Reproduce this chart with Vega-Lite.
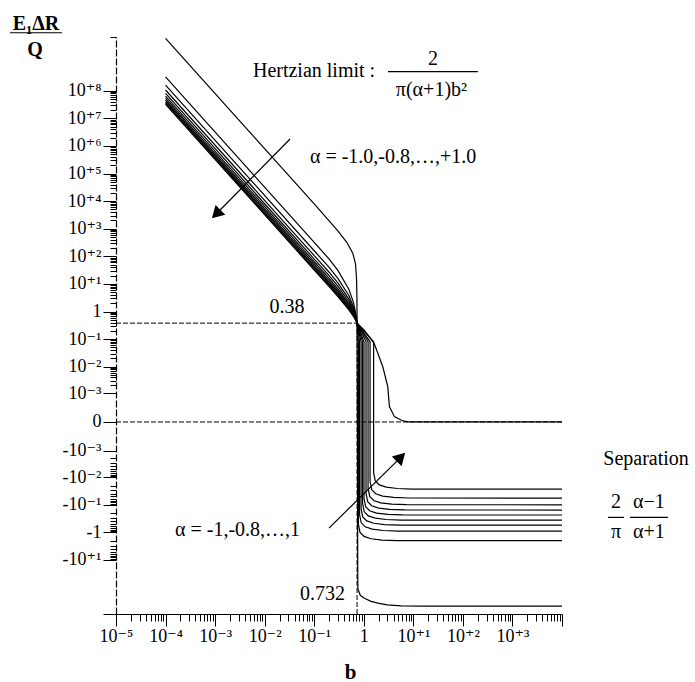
{
  "$schema": "https://vega.github.io/schema/vega-lite/v6.json",
  "width": 446,
  "height": 577,
  "autosize": {"type": "none"},
  "padding": {"left": 116, "top": 37, "right": 133, "bottom": 68},
  "background": "white",
  "config": {"view": {"stroke": null}, "font": "'Liberation Serif', 'Times New Roman', 'DejaVu Serif', serif"},
  "encoding": {
    "x": {
      "field": "b", "type": "quantitative",
      "scale": {"type": "log", "domain": [1e-5, 10000], "nice": false},
      "axis": {
        "title": "b", "titleFont": "'Liberation Serif', 'Times New Roman', 'DejaVu Serif', serif", "titleFontWeight": "bold", "titleFontSize": 21, "titleColor": "black",
        "titleX": 234, "titleY": 64, "titleBaseline": "alphabetic", "titleAnchor": "middle",
        "values": [1e-5,2e-5,3e-5,4e-5,5e-5,6e-5,7e-5,8e-5,9e-5,1e-4,2e-4,3e-4,4e-4,5e-4,6e-4,7e-4,8e-4,9e-4,1e-3,2e-3,3e-3,4e-3,5e-3,6e-3,7e-3,8e-3,9e-3,0.01,0.02,0.03,0.04,0.05,0.06,0.07,0.08,0.09,0.1,0.2,0.3,0.4,0.5,0.6,0.7,0.8,0.9,1,2,3,4,5,6,7,8,9,10,20,30,40,50,60,70,80,90,100,200,300,400,500,600,700,800,900,1000,2000,3000,4000,5000,6000,7000,8000,9000,10000],
        "labelExpr": "abs(log(datum.value)/LN10 - round(log(datum.value)/LN10)) > 1e-6 || datum.value > 5000 ? '' : (round(log(datum.value)/LN10) == 0 ? '1' : '10' + (datum.value > 1 ? '⁺' : '⁻') + ['','¹','²','³','⁴','⁵','⁶','⁷','⁸','⁹'][abs(round(log(datum.value)/LN10))])",
        "tickSize": {"condition": {"test": "abs(log(datum.value)/LN10 - round(log(datum.value)/LN10)) < 1e-6", "value": 12}, "value": 7},
        "tickColor": "black", "tickWidth": 1, "domainColor": "black", "domainWidth": 1.2,
        "labelFont": "'Liberation Serif', 'Times New Roman', 'DejaVu Serif', serif", "labelFontSize": 18, "labelColor": "black", "labelPadding": 1,
        "labelOverlap": false, "labelFlush": false, "labelBound": false, "grid": false
      }
    },
    "y": {
      "field": "v", "type": "quantitative",
      "scale": {"type": "symlog", "constant": 0.0001, "domain": [-906, 8830000000], "nice": false, "zero": false},
      "axis": {
        "title": null,
        "values": [8830000000,100000000,20000000,30000000,40000000,50000000,60000000,70000000,80000000,90000000,10000000,2000000,3000000,4000000,5000000,6000000,7000000,8000000,9000000,1000000,200000,300000,400000,500000,600000,700000,800000,900000,100000,20000,30000,40000,50000,60000,70000,80000,90000,10000,2000,3000,4000,5000,6000,7000,8000,9000,1000,200,300,400,500,600,700,800,900,100,20,30,40,50,60,70,80,90,10,2,3,4,5,6,7,8,9,1,0.2,0.3,0.4,0.5,0.6,0.7,0.8,0.9,0.1,0.02,0.03,0.04,0.05,0.06,0.07,0.08,0.09,0.01,0.002,0.003,0.004,0.005,0.006,0.007,0.008,0.009,0.001,0,-0.001,-0.002,-0.003,-0.004,-0.005,-0.006,-0.007,-0.008,-0.009,-0.01,-0.02,-0.03,-0.04,-0.05,-0.06,-0.07,-0.08,-0.09,-0.1,-0.2,-0.3,-0.4,-0.5,-0.6,-0.7,-0.8,-0.9,-1,-2,-3,-4,-5,-6,-7,-8,-9,-10,-906],
        "labelExpr": "datum.value == 0 ? '0' : (abs(log(abs(datum.value))/LN10 - round(log(abs(datum.value))/LN10)) > 1e-6 ? '' : (datum.value < 0 ? '-' : '') + (round(log(abs(datum.value))/LN10) == 0 ? '1' : '10' + (abs(datum.value) > 1 ? '⁺' : '⁻') + ['','¹','²','³','⁴','⁵','⁶','⁷','⁸','⁹'][abs(round(log(abs(datum.value))/LN10))]))",
        "tickSize": {"condition": {"test": "datum.value == 0 || datum.value < -800 || abs(log(abs(datum.value))/LN10 - round(log(abs(datum.value))/LN10)) < 1e-6", "value": 13}, "value": 6},
        "tickColor": "black", "tickWidth": 1, "domainColor": "black", "domainWidth": 1.2, "domainDash": [7, 2],
        "labelFont": "'Liberation Serif', 'Times New Roman', 'DejaVu Serif', serif", "labelFontSize": 18, "labelColor": "black", "labelPadding": 2, "labelBaseline": "middle",
        "labelOverlap": false, "labelFlush": false, "labelBound": false, "grid": false
      }
    }
  },
  "layer": [
    {
      "data": {"values": [
        {"b": 1e-5, "b2": 0.732, "v": 0.38, "v2": 0.38},
        {"b": 0.732, "b2": 0.732, "v": -906, "v2": 0.38},
        {"b": 1e-5, "b2": 10000, "v": 0, "v2": 0}
      ]},
      "mark": {"type": "rule", "color": "black", "strokeWidth": 1, "strokeDash": [5, 2]},
      "encoding": {"x2": {"field": "b2"}, "y2": {"field": "v2"}}
    },
    {
      "data": {"values": [
        {"s":"n10","i":0,"b":0.0001,"v":7900000000},{"s":"n10","i":1,"b":0.1,"v":7900},{"s":"n10","i":2,"b":0.3,"v":830},{"s":"n10","i":3,"b":0.45,"v":330},{"s":"n10","i":4,"b":0.6,"v":130},{"s":"n10","i":5,"b":0.68,"v":55},{"s":"n10","i":6,"b":0.715,"v":15},{"s":"n10","i":7,"b":0.728,"v":3},{"s":"n10","i":8,"b":0.732,"v":0.38},{"s":"n10","i":9,"b":0.742,"v":0.001},{"s":"n10","i":10,"b":0.748,"v":-0.01},{"s":"n10","i":11,"b":0.752,"v":-1},{"s":"n10","i":12,"b":0.756,"v":-40},{"s":"n10","i":13,"b":0.76,"v":-110},{"s":"n10","i":14,"b":0.85,"v":-190},{"s":"n10","i":15,"b":1.03,"v":-245},{"s":"n10","i":16,"b":1.4,"v":-315},{"s":"n10","i":17,"b":1.92,"v":-365},{"s":"n10","i":18,"b":3,"v":-420},{"s":"n10","i":19,"b":5.66,"v":-458},{"s":"n10","i":20,"b":15,"v":-468},{"s":"n10","i":21,"b":10000,"v":-470},
        {"s":"n08","i":0,"b":0.0001,"v":318300000},{"s":"n08","i":1,"b":0.1,"v":318.3},{"s":"n08","i":2,"b":0.2,"v":79.58},{"s":"n08","i":3,"b":0.3,"v":30.82},{"s":"n08","i":4,"b":0.5,"v":6.404},{"s":"n08","i":5,"b":0.62,"v":2.095},{"s":"n08","i":6,"b":0.69,"v":0.8504},{"s":"n08","i":7,"b":0.72,"v":0.4894},{"s":"n08","i":8,"b":0.732,"v":0.38},{"s":"n08","i":9,"b":0.778,"v":0.08},{"s":"n08","i":10,"b":0.778,"v":-0.5},{"s":"n08","i":11,"b":0.84,"v":-1.0},{"s":"n08","i":12,"b":1.011,"v":-1.4},{"s":"n08","i":13,"b":1.4,"v":-1.7},{"s":"n08","i":14,"b":2.334,"v":-1.9},{"s":"n08","i":15,"b":4.668,"v":-1.99},{"s":"n08","i":16,"b":10000,"v":-2.0},
        {"s":"n06","i":0,"b":0.0001,"v":159200000},{"s":"n06","i":1,"b":0.1,"v":159.2},{"s":"n06","i":2,"b":0.2,"v":39.79},{"s":"n06","i":3,"b":0.3,"v":15.96},{"s":"n06","i":4,"b":0.5,"v":3.807},{"s":"n06","i":5,"b":0.62,"v":1.481},{"s":"n06","i":6,"b":0.69,"v":0.715},{"s":"n06","i":7,"b":0.72,"v":0.463},{"s":"n06","i":8,"b":0.732,"v":0.38},{"s":"n06","i":9,"b":0.822,"v":0.08},{"s":"n06","i":10,"b":0.822,"v":-0.225},{"s":"n06","i":11,"b":0.888,"v":-0.45},{"s":"n06","i":12,"b":1.069,"v":-0.63},{"s":"n06","i":13,"b":1.48,"v":-0.765},{"s":"n06","i":14,"b":2.466,"v":-0.855},{"s":"n06","i":15,"b":4.932,"v":-0.8955},{"s":"n06","i":16,"b":10000,"v":-0.9},
        {"s":"n04","i":0,"b":0.0001,"v":106100000},{"s":"n04","i":1,"b":0.1,"v":106.1},{"s":"n04","i":2,"b":0.2,"v":26.53},{"s":"n04","i":3,"b":0.3,"v":10.855},{"s":"n04","i":4,"b":0.5,"v":2.809},{"s":"n04","i":5,"b":0.62,"v":1.209},{"s":"n04","i":6,"b":0.69,"v":0.6463},{"s":"n04","i":7,"b":0.72,"v":0.4482},{"s":"n04","i":8,"b":0.732,"v":0.38},{"s":"n04","i":9,"b":0.882,"v":0.08},{"s":"n04","i":10,"b":0.882,"v":-0.1375},{"s":"n04","i":11,"b":0.953,"v":-0.275},{"s":"n04","i":12,"b":1.147,"v":-0.385},{"s":"n04","i":13,"b":1.588,"v":-0.4675},{"s":"n04","i":14,"b":2.646,"v":-0.5225},{"s":"n04","i":15,"b":5.292,"v":-0.5473},{"s":"n04","i":16,"b":10000,"v":-0.55},
        {"s":"n02","i":0,"b":0.0001,"v":79580000},{"s":"n02","i":1,"b":0.1,"v":79.58},{"s":"n02","i":2,"b":0.2,"v":19.89},{"s":"n02","i":3,"b":0.3,"v":8.259},{"s":"n02","i":4,"b":0.5,"v":2.264},{"s":"n02","i":5,"b":0.62,"v":1.047},{"s":"n02","i":6,"b":0.69,"v":0.6012},{"s":"n02","i":7,"b":0.72,"v":0.438},{"s":"n02","i":8,"b":0.732,"v":0.38},{"s":"n02","i":9,"b":0.946,"v":0.08},{"s":"n02","i":10,"b":0.946,"v":-0.09},{"s":"n02","i":11,"b":1.022,"v":-0.18},{"s":"n02","i":12,"b":1.23,"v":-0.252},{"s":"n02","i":13,"b":1.703,"v":-0.306},{"s":"n02","i":14,"b":2.838,"v":-0.342},{"s":"n02","i":15,"b":5.676,"v":-0.3582},{"s":"n02","i":16,"b":10000,"v":-0.36},
        {"s":"p00","i":0,"b":0.0001,"v":63660000},{"s":"p00","i":1,"b":0.1,"v":63.66},{"s":"p00","i":2,"b":0.2,"v":15.92},{"s":"p00","i":3,"b":0.3,"v":6.681},{"s":"p00","i":4,"b":0.5,"v":1.915},{"s":"p00","i":5,"b":0.62,"v":0.9365},{"s":"p00","i":6,"b":0.69,"v":0.5687},{"s":"p00","i":7,"b":0.72,"v":0.4302},{"s":"p00","i":8,"b":0.732,"v":0.38},{"s":"p00","i":9,"b":1.01,"v":0.08},{"s":"p00","i":10,"b":1.01,"v":-0.0588},{"s":"p00","i":11,"b":1.091,"v":-0.1175},{"s":"p00","i":12,"b":1.313,"v":-0.1645},{"s":"p00","i":13,"b":1.818,"v":-0.1998},{"s":"p00","i":14,"b":3.03,"v":-0.2233},{"s":"p00","i":15,"b":6.06,"v":-0.2338},{"s":"p00","i":16,"b":10000,"v":-0.235},
        {"s":"p02","i":0,"b":0.0001,"v":53050000},{"s":"p02","i":1,"b":0.1,"v":53.05},{"s":"p02","i":2,"b":0.2,"v":13.26},{"s":"p02","i":3,"b":0.3,"v":5.619},{"s":"p02","i":4,"b":0.5,"v":1.67},{"s":"p02","i":5,"b":0.62,"v":0.855},{"s":"p02","i":6,"b":0.69,"v":0.5433},{"s":"p02","i":7,"b":0.72,"v":0.4241},{"s":"p02","i":8,"b":0.732,"v":0.38},{"s":"p02","i":9,"b":1.11,"v":0.08},{"s":"p02","i":10,"b":1.11,"v":-0.0388},{"s":"p02","i":11,"b":1.199,"v":-0.0775},{"s":"p02","i":12,"b":1.443,"v":-0.1085},{"s":"p02","i":13,"b":1.998,"v":-0.1318},{"s":"p02","i":14,"b":3.33,"v":-0.1473},{"s":"p02","i":15,"b":6.66,"v":-0.1542},{"s":"p02","i":16,"b":10000,"v":-0.155},
        {"s":"p04","i":0,"b":0.0001,"v":45470000},{"s":"p04","i":1,"b":0.1,"v":45.47},{"s":"p04","i":2,"b":0.2,"v":11.37},{"s":"p04","i":3,"b":0.3,"v":4.853},{"s":"p04","i":4,"b":0.5,"v":1.488},{"s":"p04","i":5,"b":0.62,"v":0.7916},{"s":"p04","i":6,"b":0.69,"v":0.5228},{"s":"p04","i":7,"b":0.72,"v":0.4189},{"s":"p04","i":8,"b":0.732,"v":0.38},{"s":"p04","i":9,"b":1.22,"v":0.08},{"s":"p04","i":10,"b":1.22,"v":-0.025},{"s":"p04","i":11,"b":1.318,"v":-0.05},{"s":"p04","i":12,"b":1.586,"v":-0.07},{"s":"p04","i":13,"b":2.196,"v":-0.085},{"s":"p04","i":14,"b":3.66,"v":-0.095},{"s":"p04","i":15,"b":7.32,"v":-0.0995},{"s":"p04","i":16,"b":10000,"v":-0.1},
        {"s":"p06","i":0,"b":0.0001,"v":39790000},{"s":"p06","i":1,"b":0.1,"v":39.79},{"s":"p06","i":2,"b":0.2,"v":9.947},{"s":"p06","i":3,"b":0.3,"v":4.276},{"s":"p06","i":4,"b":0.5,"v":1.346},{"s":"p06","i":5,"b":0.62,"v":0.7404},{"s":"p06","i":6,"b":0.69,"v":0.5056},{"s":"p06","i":7,"b":0.72,"v":0.4144},{"s":"p06","i":8,"b":0.732,"v":0.38},{"s":"p06","i":9,"b":1.34,"v":0.08},{"s":"p06","i":10,"b":1.34,"v":-0.01425},{"s":"p06","i":11,"b":1.447,"v":-0.0285},{"s":"p06","i":12,"b":1.742,"v":-0.0399},{"s":"p06","i":13,"b":2.412,"v":-0.04845},{"s":"p06","i":14,"b":4.02,"v":-0.05415},{"s":"p06","i":15,"b":8.04,"v":-0.0567},{"s":"p06","i":16,"b":10000,"v":-0.057},
        {"s":"p08","i":0,"b":0.0001,"v":35370000},{"s":"p08","i":1,"b":0.1,"v":35.37},{"s":"p08","i":2,"b":0.2,"v":8.842},{"s":"p08","i":3,"b":0.3,"v":3.823},{"s":"p08","i":4,"b":0.5,"v":1.2323},{"s":"p08","i":5,"b":0.62,"v":0.6981},{"s":"p08","i":6,"b":0.69,"v":0.491},{"s":"p08","i":7,"b":0.72,"v":0.4105},{"s":"p08","i":8,"b":0.732,"v":0.38},{"s":"p08","i":9,"b":1.58,"v":0.08},{"s":"p08","i":10,"b":1.58,"v":-0.00675},{"s":"p08","i":11,"b":1.706,"v":-0.0135},{"s":"p08","i":12,"b":2.054,"v":-0.0189},{"s":"p08","i":13,"b":2.844,"v":-0.02295},{"s":"p08","i":14,"b":4.74,"v":-0.02565},{"s":"p08","i":15,"b":9.48,"v":-0.02687},{"s":"p08","i":16,"b":10000,"v":-0.027},
        {"s":"p10","i":0,"b":0.0001,"v":31830000},{"s":"p10","i":1,"b":0.1,"v":31.83},{"s":"p10","i":2,"b":0.2,"v":7.958},{"s":"p10","i":3,"b":0.3,"v":3.459},{"s":"p10","i":4,"b":0.5,"v":1.1386},{"s":"p10","i":5,"b":0.62,"v":0.6623},{"s":"p10","i":6,"b":0.69,"v":0.4782},{"s":"p10","i":7,"b":0.72,"v":0.4071},{"s":"p10","i":8,"b":0.732,"v":0.38},{"s":"p10","i":9,"b":1.0,"v":0.22},{"s":"p10","i":10,"b":1.61,"v":0.072},{"s":"p10","i":11,"b":2.42,"v":0.0099},{"s":"p10","i":12,"b":3.05,"v":0.0018},{"s":"p10","i":13,"b":3.29,"v":0.00026},{"s":"p10","i":14,"b":4.15,"v":0.0000556},{"s":"p10","i":15,"b":6.14,"v":0.0000087},{"s":"p10","i":16,"b":8,"v":0},{"s":"p10","i":17,"b":10000,"v":0}
      ]},
      "mark": {"type": "line", "color": "black", "strokeWidth": 1.2, "interpolate": "linear"},
      "encoding": {"detail": {"field": "s"}, "order": {"field": "i", "type": "quantitative"}}
    },
    {
      "data": {"values": [
        {"b": 7.26e-8, "b2": 8.13e-7, "v": 12600000000, "v2": 12600000000},
        {"b": 3.08, "b2": 201, "v": 488000000, "v2": 488000000},
        {"b": 84700, "b2": 178000, "v": -0.286, "v2": -0.286},
        {"b": 234000, "b2": 1370000, "v": -0.286, "v2": -0.286},
        {"b": 0.0325, "b2": 0.00105, "v": 1780000, "v2": 3413},
        {"b": 0.199, "b2": 5.63, "v": -0.698, "v2": -0.00177}
      ]},
      "mark": {"type": "rule", "color": "black", "strokeWidth": 1.2},
      "encoding": {"x2": {"field": "b2"}, "y2": {"field": "v2"}}
    },
    {
      "data": {"values": [{"b": 0.00105, "v": 3413}]},
      "mark": {"type": "point", "shape": "triangle-up", "filled": true, "color": "black", "opacity": 1, "size": 190, "angle": 225}
    },
    {
      "data": {"values": [{"b": 5.63, "v": -0.00177}]},
      "mark": {"type": "point", "shape": "triangle-up", "filled": true, "color": "black", "opacity": 1, "size": 190, "angle": 45}
    },
    {
      "data": {"values": [
        {"b": 2.43e-7, "v": 15800000000, "t": "E₁ΔR"},
        {"b": 2.32e-7, "v": 1810000000, "t": "Q"}
      ]},
      "mark": {"type": "text", "font": "'Liberation Serif', 'Times New Roman', 'DejaVu Serif', serif", "fontWeight": "bold", "fontSize": 20, "align": "center", "baseline": "alphabetic", "color": "black"},
      "encoding": {"text": {"field": "t"}}
    },
    {
      "data": {"values": [
        {"b": 0.0058, "v": 313000000, "t": "Hertzian limit :"},
        {"b": 0.082, "v": 240000, "t": "α = -1.0,-0.8,…,+1.0"},
        {"b": 0.000155, "v": -1.36, "t": "α = -1,-0.8,…,1"},
        {"b": 68000, "v": -0.00355, "t": "Separation"}
      ]},
      "mark": {"type": "text", "font": "'Liberation Serif', 'Times New Roman', 'DejaVu Serif', serif", "fontSize": 20, "align": "left", "baseline": "alphabetic", "color": "black"},
      "encoding": {"text": {"field": "t"}}
    },
    {
      "data": {"values": [
        {"b": 24.9, "v": 853000000, "t": "2"},
        {"b": 23.2, "v": 64300000, "t": "π(α+1)b²"},
        {"b": 0.0282, "v": 0.873, "t": "0.38"},
        {"b": 123000, "v": -0.132, "t": "2"},
        {"b": 569000, "v": -0.132, "t": "α−1"},
        {"b": 123000, "v": -1.61, "t": "π"},
        {"b": 569000, "v": -1.61, "t": "α+1"}
      ]},
      "mark": {"type": "text", "font": "'Liberation Serif', 'Times New Roman', 'DejaVu Serif', serif", "fontSize": 20, "align": "center", "baseline": "alphabetic", "color": "black"},
      "encoding": {"text": {"field": "t"}}
    },
    {
      "data": {"values": [{"b": 0.418, "v": -284, "t": "0.732"}]},
      "mark": {"type": "text", "font": "'Liberation Serif', 'Times New Roman', 'DejaVu Serif', serif", "fontSize": 20, "align": "right", "baseline": "alphabetic", "color": "black"},
      "encoding": {"text": {"field": "t"}}
    }
  ]
}
